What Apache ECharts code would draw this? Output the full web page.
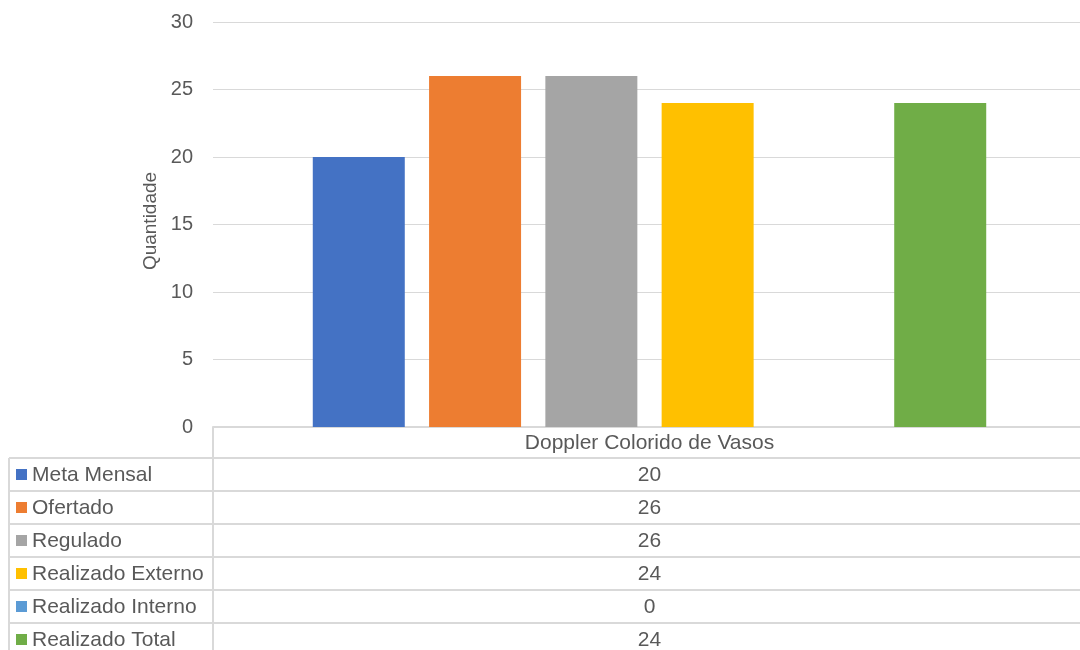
<!DOCTYPE html>
<html>
<head>
<meta charset="utf-8">
<script src="https://cdn.jsdelivr.net/npm/echarts@6/dist/echarts.min.js"></script>
<style>
html,body{margin:0;padding:0;background:#fff;}
#chart{width:1080px;height:650px;}
</style>
</head>
<body>
<div id="chart"></div>
<script>
var categories = ['Doppler Colorido de Vasos'];
var seriesNames = ['Meta Mensal', 'Ofertado', 'Regulado', 'Realizado Externo', 'Realizado Interno', 'Realizado Total'];
var metaMensal = [20];
var ofertado = [26];
var regulado = [26];
var realizadoExterno = [24];
var realizadoInterno = [0];
var realizadoTotal = [24];
var yTicks = [0, 5, 10, 15, 20, 25, 30];

(function () {
  var colors = ['#4472C4', '#ED7D31', '#A5A5A5', '#FFC000', '#5B9BD5', '#70AD47'];
  var seriesValues = [metaMensal, ofertado, regulado, realizadoExterno, realizadoInterno, realizadoTotal];

  var W = 1080, H = 650;
  var gridLeft = 213, gridTop = 22, axisY = 427;
  var headerH = 31, rowH = 33, tableLeft = 9;
  var lineColor = '#d9d9d9', textColor = '#595959';
  var fontFam = 'Liberation Sans, Arial, sans-serif';

  var chart = echarts.init(document.getElementById('chart'));

  var graphics = [];
  graphics.push({type:'line', shape:{x1:gridLeft, y1:axisY, x2:gridLeft, y2:H}, style:{stroke:lineColor, lineWidth:2}, silent:true});
  var firstRowTop = axisY + headerH;
  graphics.push({type:'line', shape:{x1:tableLeft, y1:firstRowTop, x2:tableLeft, y2:H}, style:{stroke:lineColor, lineWidth:2}, silent:true});
  var valCenter = gridLeft + (W - gridLeft) / 2 + 3;
  for (var i = 0; i < seriesNames.length; i++) {
    var rowTop = firstRowTop + i * rowH;
    graphics.push({type:'line', shape:{x1:tableLeft, y1:rowTop, x2:W, y2:rowTop}, style:{stroke:lineColor, lineWidth:2}, silent:true});
    graphics.push({type:'rect', shape:{x:16, y:rowTop + rowH/2 - 5.5, width:11, height:11}, style:{fill:colors[i]}, silent:true});
    graphics.push({type:'text', x:32, y:rowTop + rowH/2 + 1, style:{text:seriesNames[i], fill:textColor, fontSize:21, fontFamily:fontFam, verticalAlign:'middle', align:'left'}, silent:true});
    graphics.push({type:'text', x:valCenter, y:rowTop + rowH/2 + 1, style:{text:String(seriesValues[i][0]), fill:textColor, fontSize:21, fontFamily:fontFam, verticalAlign:'middle', align:'center'}, silent:true});
  }

  var series = seriesNames.map(function(n, k){
    return {
      name: n,
      type: 'bar',
      data: seriesValues[k],
      barWidth: 92,
      barGap: '26.4%',
      itemStyle: {color: colors[k]},
      silent: true
    };
  });

  chart.setOption({
    animation: false,
    backgroundColor: '#fff',
    grid: {left: gridLeft, right: -6, top: gridTop, bottom: H - axisY, outerBoundsMode: 'none', containLabel: false},
    xAxis: {
      type: 'category',
      data: categories,
      axisLine: {show: true, lineStyle: {color: lineColor, width: 2}},
      axisTick: {show: false},
      axisLabel: {color: textColor, fontSize: 21, fontFamily: fontFam, margin: 6}
    },
    yAxis: {
      type: 'value',
      min: yTicks[0],
      max: yTicks[yTicks.length - 1],
      interval: yTicks[1] - yTicks[0],
      name: 'Quantidade',
      nameLocation: 'middle',
      nameGap: 49,
      nameTextStyle: {color: textColor, fontSize: 19, fontFamily: fontFam, padding: [0, 0, 0, 7]},
      axisLine: {show: false},
      axisTick: {show: false},
      axisLabel: {color: textColor, fontSize: 20, fontFamily: fontFam, margin: 20},
      splitLine: {lineStyle: {color: lineColor, width: 1}}
    },
    series: series,
    graphic: {elements: graphics}
  });
})();
</script>
</body>
</html>
